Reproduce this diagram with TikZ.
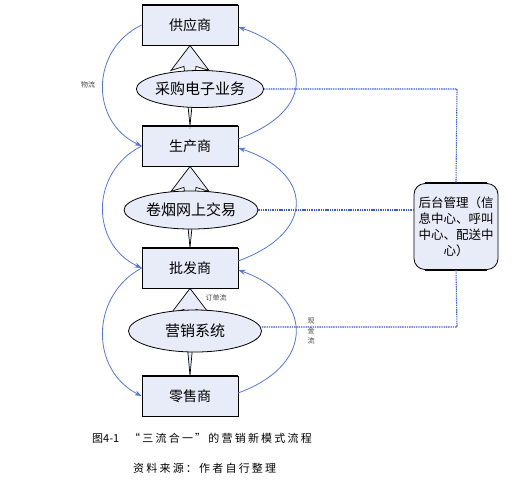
\documentclass[tikz,border=0pt]{standalone}
\usepackage{fontspec}
\setmainfont{Noto Sans CJK SC}
\newfontfamily\capfont{Noto Sans CJK SC}[LetterSpace=20]
\usetikzlibrary{shapes.geometric,calc,arrows.meta}
\definecolor{boxfill}{HTML}{E8ECF8}
\definecolor{flowblue}{HTML}{5576D6}
\definecolor{dotblue}{HTML}{3A5AD0}
\tikzset{
  partybox/.style={draw=black,line width=0.8pt,fill=boxfill,minimum width=96pt,minimum height=40pt,inner sep=0pt,font=\fontsize{14}{16}\selectfont},
  sysell/.style={ellipse,draw=black,line width=0.8pt,fill=boxfill,inner sep=0pt,font=\fontsize{15}{17}\selectfont},
  bigarrow/.style={draw=black,line width=0.7pt,fill=boxfill,line join=miter},
  flow/.style={draw=flowblue,line width=0.8pt,-{Stealth[length=7pt,width=5pt]}},
  infoline/.style={draw=dotblue,line width=1.1pt,dash pattern=on 1.4pt off 0.9pt},
  tinylabel/.style={font=\fontsize{7}{8}\selectfont,text=black!75,inner sep=0pt}
}
\begin{document}
\begin{tikzpicture}[x=1pt,y=-1pt]
\useasboundingbox (0,0) rectangle (529,480);
% boxes (positions)
\node[partybox] (sup) at (190,25) {供应商};
\node[partybox] (pro) at (190,146) {生产商};
\node[partybox] (who) at (190,268) {批发商};
\node[partybox] (ret) at (190,396) {零售商};
% big hollow arrows
\foreach \lo/\hi in {pro/sup,who/pro,ret/who}{
  \draw[bigarrow] (\hi.south) -- ($(\hi.south)+(19,25)$) -- ($(\hi.south)+(6,21)$)
     -- (\lo.north) -- ($(\hi.south)+(-6,21)$) -- ($(\hi.south)+(-19,25)$) -- cycle;
}
% ellipses
\node[sysell,minimum width=123pt,minimum height=37pt] (e1) at (200,89) {采购电子业务};
\node[sysell,minimum width=134pt,minimum height=38pt] (e2) at (191,210) {卷烟网上交易};
\node[sysell,minimum width=133pt,minimum height=42pt] (e3) at (195,331) {营销系统};
% thick top/bottom edges
\foreach \n in {sup,pro,who,ret}{
  \draw[line width=1.6pt] (\n.north west) -- (\n.north east);
  \draw[line width=1.6pt] (\n.south west) -- (\n.south east);
}
% back office
\node[draw=black,line width=0.8pt,fill=boxfill,rounded corners=11pt,minimum width=84pt,minimum height=86pt,inner sep=0pt,align=center,font=\fontsize{12.5}{16}\selectfont] (bo) at (456,226.5) {后台管理（信\\息中心、呼叫\\中心、配送中\\心）};
\draw[line width=1.6pt] ($(bo.north west)+(11,0)$) -- ($(bo.north east)+(-11,0)$);
\draw[line width=1.6pt] ($(bo.south west)+(11,0)$) -- ($(bo.south east)+(-11,0)$);
% info lines
\coordinate (c1) at (457,89);
\coordinate (c3) at (457,327);
\draw[infoline] (e1.east) -- (c1) -- (bo.north);
\draw[infoline] (e2.east) -- (e2.east -| bo.west);
\draw[infoline] (e3.east |- c3) -- (c3) -- (bo.south);
% material flow (left)
\draw[flow] (sup.west) .. controls (90,50) and (90,122) .. (pro.west);
\draw[flow] (pro.west) .. controls (90,172) and (90,244) .. (who.west);
\draw[flow] (who.west) .. controls (90,296) and (90,370) .. (ret.west);
% right flows (up)
\coordinate (r1) at (238,139);
\coordinate (r2) at (238,261);
\coordinate (r3) at (238,393);
\draw[flow] (r1) .. controls (318,110) and (312,52) .. ($(sup.east)+(0,2)$);
\draw[flow] (r2) .. controls (318,232) and (312,172) .. ($(pro.east)+(0,2)$);
\draw[flow] (r3) .. controls (318,364) and (312,296) .. ($(who.east)+(0,2)$);
% labels
\node[tinylabel] (lwl) at (88,85) {物流};
\node[tinylabel] (ldd) at (216,298) {订单流};
\node[tinylabel,align=center,font=\fontsize{7}{10}\selectfont] (lxj) at (311,331) {现\\金\\流};
% caption
\node[anchor=west,inner sep=0pt,font=\fontsize{11}{13}\selectfont] (cap1) at (92,438) {图4-1\hspace{10pt}{\capfont “三流合一”的营销新模式流程}};
\node[anchor=west,inner sep=0pt,font=\fontsize{11}{13}\capfont] (cap2) at (133,468) {资料来源：作者自行整理};
\end{tikzpicture}
\end{document}
